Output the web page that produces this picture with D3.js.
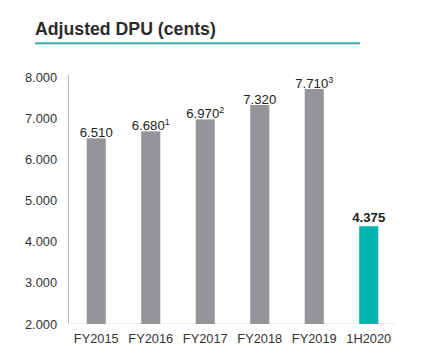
<!DOCTYPE html>
<html><head><meta charset="utf-8">
<script src="https://cdn.jsdelivr.net/npm/d3@7"></script>
<style>body{margin:0;background:#fff;}svg{display:block;font-family:"Liberation Sans",Arial,sans-serif;}</style>
</head><body><svg id="c" width="422" height="359"></svg>
<script>
const categories = ["FY2015","FY2016","FY2017","FY2018","FY2019","1H2020"];
const values = [6.510, 6.680, 6.970, 7.320, 7.710, 4.375];
const valueLabels = ["6.510","6.680","6.970","7.320","7.710","4.375"];
const footnotes = ["","1","2","","3",""];
const yTicks = [2,3,4,5,6,7,8];

const svg = d3.select("#c");
svg.append("text").attr("x",35).attr("y",35).attr("font-size",17.7).attr("font-weight","bold")
  .attr("fill","#2b2b2b").text("Adjusted DPU (cents)");
svg.append("rect").attr("x",35).attr("y",42.3).attr("width",325).attr("height",2).attr("fill","#36aaa8");

const x = d3.scaleBand().domain(categories).range([69,396]).paddingInner(0.65).paddingOuter(0.325);
const y = d3.scaleLinear().domain([2,8]).range([324,77]);

// axes
svg.append("line").attr("x1",68.5).attr("x2",68.5).attr("y1",y(8)-3).attr("y2",y(2)).attr("stroke","#b5b5b5");
svg.append("line").attr("x1",68).attr("x2",396).attr("y1",y(2)-0.5).attr("y2",y(2)-0.5).attr("stroke","#ececec");

const yAxis = svg.append("g").attr("transform","translate(57,0)")
  .call(d3.axisLeft(y).tickValues(yTicks).tickFormat(d3.format(".3f")).tickSize(0).tickPadding(0));
yAxis.select(".domain").remove();
yAxis.selectAll("text").attr("font-size",12.8).attr("fill","#333").attr("font-family","Liberation Sans, Arial, sans-serif");

const xAxis = svg.append("g").attr("transform",`translate(0,${y(2)})`)
  .call(d3.axisBottom(x).tickSize(0).tickPadding(10));
xAxis.select(".domain").remove();
xAxis.selectAll("text").attr("font-size",12.8).attr("fill","#333").attr("font-family","Liberation Sans, Arial, sans-serif");

svg.selectAll("rect.bar").data(categories).join("rect").attr("class","bar")
  .attr("x",d=>x(d)).attr("width",x.bandwidth())
  .attr("y",(d,i)=>y(values[i])).attr("height",(d,i)=>y(2)-y(values[i]))
  .attr("fill",(d,i)=>i===5?"#00b5ae":"#939598");

const lab = svg.selectAll("text.val").data(categories).join("text").attr("class","val")
  .attr("x",d=>x(d)+x.bandwidth()/2).attr("y",(d,i)=>y(values[i])-(i===5?4:1))
  .attr("text-anchor","middle").attr("font-size",13.2).attr("fill","#222")
  .attr("font-weight",(d,i)=>i===5?"bold":"normal");
lab.append("tspan").text((d,i)=>valueLabels[i]);
lab.append("tspan").attr("dy",-5).attr("font-size",9).text((d,i)=>footnotes[i]);
</script></body></html>
